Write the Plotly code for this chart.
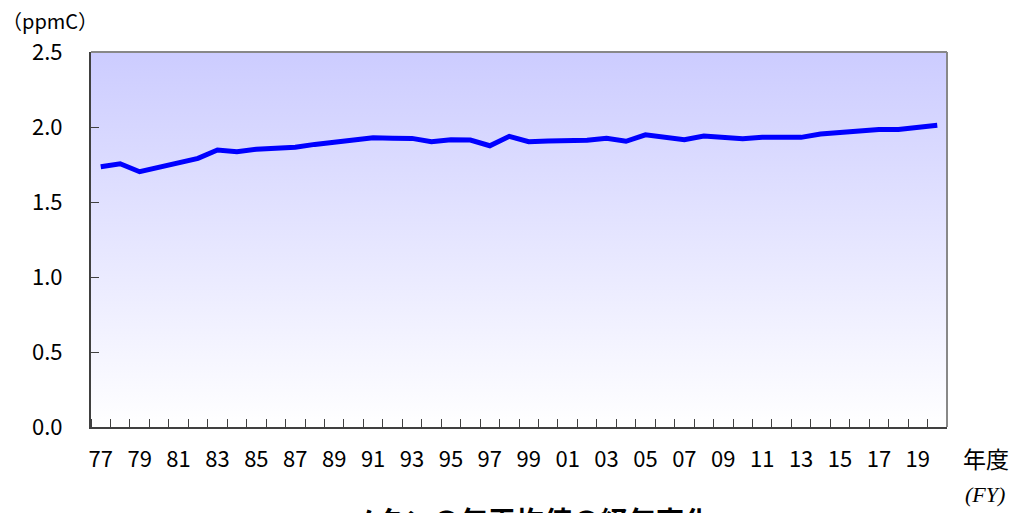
import plotly.graph_objects as go

# Fiscal years (two-digit labels)
year_labels = ["77", "78", "79", "80", "81", "82", "83", "84", "85", "86",
               "87", "88", "89", "90", "91", "92", "93", "94", "95", "96",
               "97", "98", "99", "00", "01", "02", "03", "04", "05", "06",
               "07", "08", "09", "10", "11", "12", "13", "14", "15", "16",
               "17", "18", "19", "20"]
# Annual mean methane concentration (ppmC)
methane_ppmc = [1.735, 1.755, 1.702, 1.729, 1.756, 1.791, 1.847, 1.835, 1.852, 1.858,
                1.865, 1.884, 1.898, 1.909, 1.928, 1.925, 1.924, 1.902, 1.915, 1.913,
                1.875, 1.938, 1.902, 1.906, 1.907, 1.911, 1.925, 1.905, 1.948, 1.931,
                1.915, 1.940, 1.930, 1.921, 1.931, 1.931, 1.931, 1.953, 1.963, 1.973,
                1.983, 1.984, 1.994, 2.012]
y_ticks = [0.0, 0.5, 1.0, 1.5, 2.0, 2.5]

n = len(year_labels)
xs = list(range(n))
x_lo, x_hi = -0.5, n - 0.5
y_lo, y_hi = y_ticks[0], y_ticks[-1]

font_main = "Noto Sans CJK JP, Noto Sans, sans-serif"

fig = go.Figure()

# gradient background of the plot area
fig.add_trace(go.Scatter(
    x=[x_lo, x_hi, x_hi, x_lo, x_lo],
    y=[y_lo, y_lo, y_hi, y_hi, y_lo],
    mode="lines", line=dict(width=0),
    fill="toself",
    fillgradient=dict(type="vertical", start=y_lo, stop=y_hi,
                      colorscale=[[0, "#FFFFFF"], [1, "#CCCCFF"]]),
    hoverinfo="skip", showlegend=False,
))

fig.add_trace(go.Scatter(
    x=xs, y=methane_ppmc, mode="lines",
    line=dict(color="#0000FF", width=5),
    showlegend=False,
))

fig.update_layout(
    width=1021, height=513,
    margin=dict(l=91, r=74, t=52, b=86),
    paper_bgcolor="white", plot_bgcolor="white",
    font=dict(family=font_main, size=22, color="black"),
    xaxis=dict(
        range=[x_lo, x_hi], showgrid=False, zeroline=False,
        tickmode="array", tickvals=xs[::2], ticktext=year_labels[::2],
        ticks="", ticklabelstandoff=12,
        minor=dict(tickmode="array", tickvals=[i - 0.5 for i in range(n + 1)],
                   ticks="inside", ticklen=8, tickwidth=1, tickcolor="#404040"),
        showline=True, linecolor="#404040", linewidth=2,
        tickfont=dict(size=22),
    ),
    yaxis=dict(
        range=[y_lo, y_hi], showgrid=False, zeroline=False,
        tickmode="array", tickvals=y_ticks, tickformat=".1f",
        ticks="inside", ticklen=8, tickwidth=1, tickcolor="#404040",
        ticklabelstandoff=22,
        showline=True, linecolor="#404040", linewidth=2,
        tickfont=dict(size=22),
    ),
    shapes=[
        dict(type="line", xref="paper", yref="paper", x0=0, x1=1, y0=1, y1=1,
             line=dict(color="#888888", width=2)),
        dict(type="line", xref="paper", yref="paper", x0=1, x1=1, y0=0, y1=1,
             line=dict(color="#888888", width=2)),
    ],
    annotations=[
        dict(text="（ppmC）", xref="paper", yref="paper", x=-91/856, y=(427-20)/375,
             xanchor="left", yanchor="middle", showarrow=False, font=dict(size=20)),
        dict(text="年度", xref="paper", yref="paper", x=(961-91)/856, y=(427-458)/375,
             xanchor="left", yanchor="middle", showarrow=False, font=dict(size=23)),
        dict(text="<i>(FY)</i>", xref="paper", yref="paper", x=(963-91)/856, y=(427-494)/375,
             xanchor="left", yanchor="middle", showarrow=False,
             font=dict(family="Liberation Serif, Times New Roman, serif", size=22)),
        dict(text="<b>メタンの年平均値の経年変化</b>", xref="paper", yref="paper",
             x=(530-91)/856, y=(427-498)/375, xanchor="center", yanchor="top",
             showarrow=False, font=dict(size=28)),
    ],
)

fig.write_html("out.html", config={"displayModeBar": False},
               post_script="document.body.style.margin='0';document.body.style.overflow='hidden';")
